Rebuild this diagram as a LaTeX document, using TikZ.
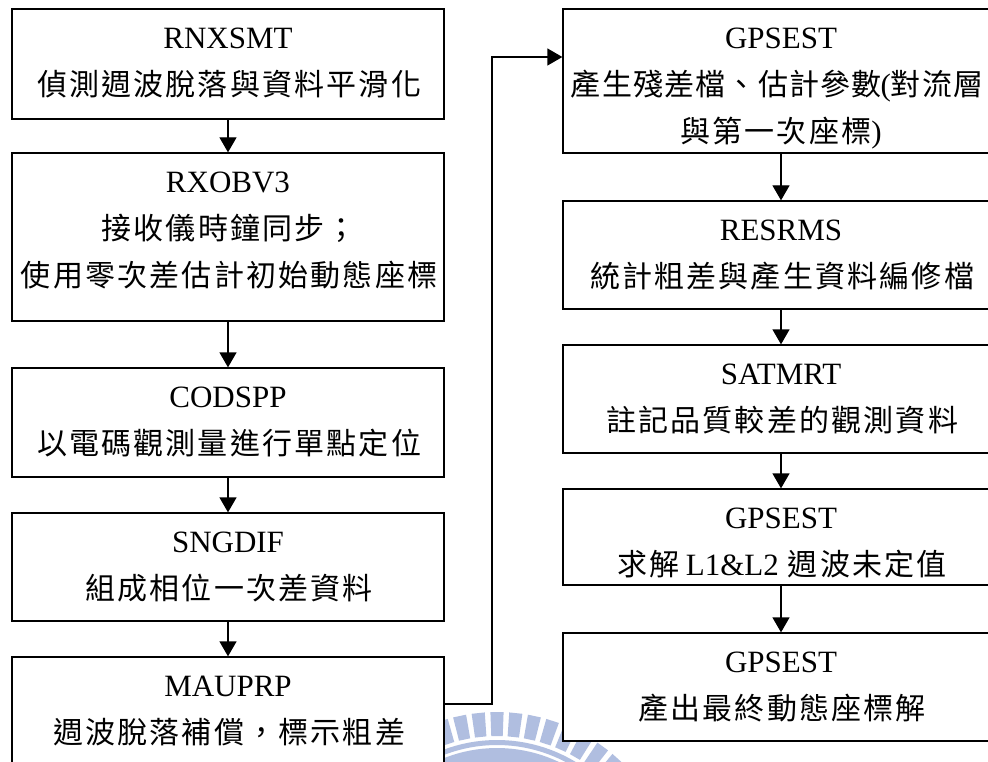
\documentclass[tikz,border=0pt]{standalone}
\usepackage{fontspec}
\setmainfont{Liberation Serif}
\newfontfamily\cjk[LetterSpace=7.3]{Noto Sans CJK TC}
\newfontfamily\cjkt[LetterSpace=4]{Noto Sans CJK TC}
\usetikzlibrary{arrows.meta}
\newcommand\zh[1]{{\fontsize{30}{47}\selectfont\cjk #1}}
\newcommand\zt[1]{{\fontsize{30}{47}\selectfont\cjkt #1}}
\newcommand\zhe[1]{\zh{#1}\kern-2.2pt}
\definecolor{wmblue}{RGB}{176,190,224}
\tikzset{
  box/.style={draw, fill=white, line width=1.3pt, inner sep=0pt, rectangle},
  lbox/.style={box, minimum width=432},
  rbox/.style={box, minimum width=436},
  txt/.style={anchor=north, inner sep=0pt, align=center, font=\fontsize{31}{47}\selectfont},
  arr/.style={line width=1.3pt, -{Triangle[width=17pt,length=15pt]}},
  wm/.style={fill=wmblue, draw=none}
}
\begin{document}
\begin{tikzpicture}[x=1pt,y=-1pt]
\useasboundingbox (0,0) rectangle (988,762);
\clip (0,0) rectangle (988,762);
\fill[white] (0,0) rectangle (988,762);
% watermark
\begin{scope}[shift={(497,892)}]
  \foreach \k in {-12,...,12}{
    \pgfmathsetmacro\a{270+6*\k}
    \fill[wm] (\a-2.1:156) -- (\a-2.1:180) -- (\a+2.1:180) -- (\a+2.1:156) -- cycle;
  }
  \fill[wm] plot[domain=200:340,samples=60] ({152*cos(\x)},{152*sin(\x)})
     -- plot[domain=340:200,samples=60] ({147*cos(\x)},{147*sin(\x)}) -- cycle;
  \fill[wm] plot[domain=200:340,samples=60] ({144*cos(\x)},{144*sin(\x)})
     -- plot[domain=340:200,samples=60] ({126*cos(\x)},{126*sin(\x)}) -- cycle;
\end{scope}
% left column
\node[lbox, minimum height=110] (L1) at (228,64) {};
\node[lbox, minimum height=168] (L2) at (228,237) {};
\node[lbox, minimum height=109] (L3) at (228,422.5) {};
\node[lbox, minimum height=108] (L4) at (228,567) {};
\node[lbox, minimum height=110] (L5) at (228,712) {};
% right column
\node[rbox, minimum height=144] (R1) at (781,81) {};
\node[rbox, minimum height=108] (R2) at (781,255) {};
\node[rbox, minimum height=108] (R3) at (781,399) {};
\node[rbox, minimum height=96] (R4) at (781,537) {};
\node[rbox, minimum height=108] (R5) at (781,687) {};
% texts
\node[txt] (tL1) at (L1.north) {\rule{0pt}{40pt}RNXSMT\\\zhe{偵測週波脫落與資料平滑化}};
\node[txt] (tL2) at (L2.north) {\rule{0pt}{40pt}RXOBV3\\\zhe{接收儀時鐘同步；}\\\zhe{使用零次差估計初始動態座標}};
\node[txt] (tL3) at (L3.north) {\rule{0pt}{40pt}CODSPP\\\zhe{以電碼觀測量進行單點定位}};
\node[txt] (tL4) at (L4.north) {\rule{0pt}{40pt}SNGDIF\\\zhe{組成相位一次差資料}};
\node[txt] (tL5) at (L5.north) {\rule{0pt}{40pt}MAUPRP\\\zhe{週波脫落補償，標示粗差}};
\node[txt] (tR1) at (R1.north) {\rule{0pt}{40pt}GPSEST\\\zt{產生殘差檔、估計參數}\kern-1pt(\zt{對流層}\kern-1.2pt\kern9pt\\\zh{與第一次座標})};
\node[txt] (tR2) at (R2.north) {\rule{0pt}{40pt}RESRMS\\\zhe{統計粗差與產生資料編修檔}};
\node[txt] (tR3) at (R3.north) {\rule{0pt}{40pt}SATMRT\\\zhe{註記品質較差的觀測資料}};
\node[txt] (tR4) at (R4.north) {\rule{0pt}{40pt}GPSEST\\\zh{求解}\hspace{6pt}L1\&L2\hspace{9pt}\zhe{週波未定值}};
\node[txt] (tR5) at (R5.north) {\rule{0pt}{40pt}GPSEST\\\zhe{產出最終動態座標解}};
% connectors
\draw[arr] (L1) -- (L2);
\draw[arr] (L2) -- (L3);
\draw[arr] (L3) -- (L4);
\draw[arr] (L4) -- (L5);
\draw[arr] (R1) -- (R2);
\draw[arr] (R2) -- (R3);
\draw[arr] (R3) -- (R4);
\draw[arr] (R4) -- (R5);
\coordinate (j1) at (492,704);
\coordinate (j2) at (492,57);
\draw[arr] (L5.east |- j1) -- (j1) -- (j2) -- (R1.west |- j2);
\end{tikzpicture}
\end{document}
